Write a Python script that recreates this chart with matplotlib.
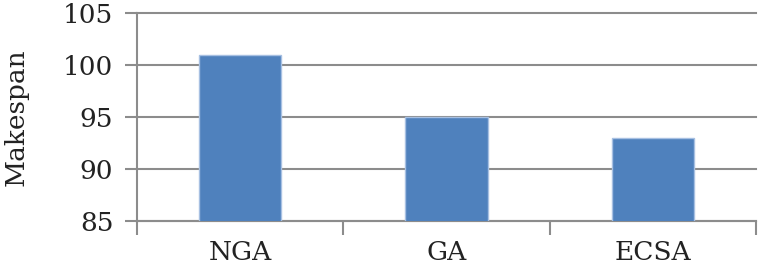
import matplotlib.pyplot as plt
import numpy as np

# Data
methods = ['NGA', 'GA', 'ECSA']
makespan = [101, 95, 93]
y_ticks = [85, 90, 95, 100, 105]

grey = '#8c8c8c'
plt.rcParams['font.family'] = ['DejaVu Serif']

fig = plt.figure(figsize=(7.58, 2.68), dpi=100)
ax = fig.add_axes([0.1807, 0.1754, 0.8167, 0.7761])

x = np.arange(len(methods))
ax.bar(x, makespan, width=0.4, color='#4f81bd', edgecolor='#a7c0e2', linewidth=1, zorder=3)

ax.set_ylim(85, 105)
ax.set_xlim(-0.5, len(methods) - 0.5)
ax.set_yticks(y_ticks)
ax.set_yticklabels([str(v) for v in y_ticks], fontsize=19, color='#222222')

# category boundaries get the tick marks, labels sit in the middle
ax.set_xticks(np.arange(len(methods) + 1) - 0.5)
ax.set_xticklabels([])
ax.set_xticks(x, minor=True)
ax.set_xticklabels(methods, minor=True, fontsize=19, color='#222222')
ax.tick_params(axis='x', which='major', length=10, width=1.5, color=grey)
ax.tick_params(axis='x', which='minor', length=0, pad=14)
ax.tick_params(axis='y', length=9, width=1.5, color=grey, pad=8)

ax.grid(axis='y', color=grey, linewidth=1.5, zorder=0)
for gl in ax.get_ygridlines():
    gl.set_clip_on(False)

ax.spines['top'].set_visible(False)
ax.spines['right'].set_visible(False)
ax.spines['left'].set_color(grey)
ax.spines['bottom'].set_color(grey)
ax.spines['left'].set_linewidth(1.5)
ax.spines['bottom'].set_linewidth(1.5)

ax.set_ylabel('Makespan', fontsize=19, color='#222222')
ax.yaxis.set_label_coords(-0.175, 0.5)

fig.savefig('out.png', dpi=100)
